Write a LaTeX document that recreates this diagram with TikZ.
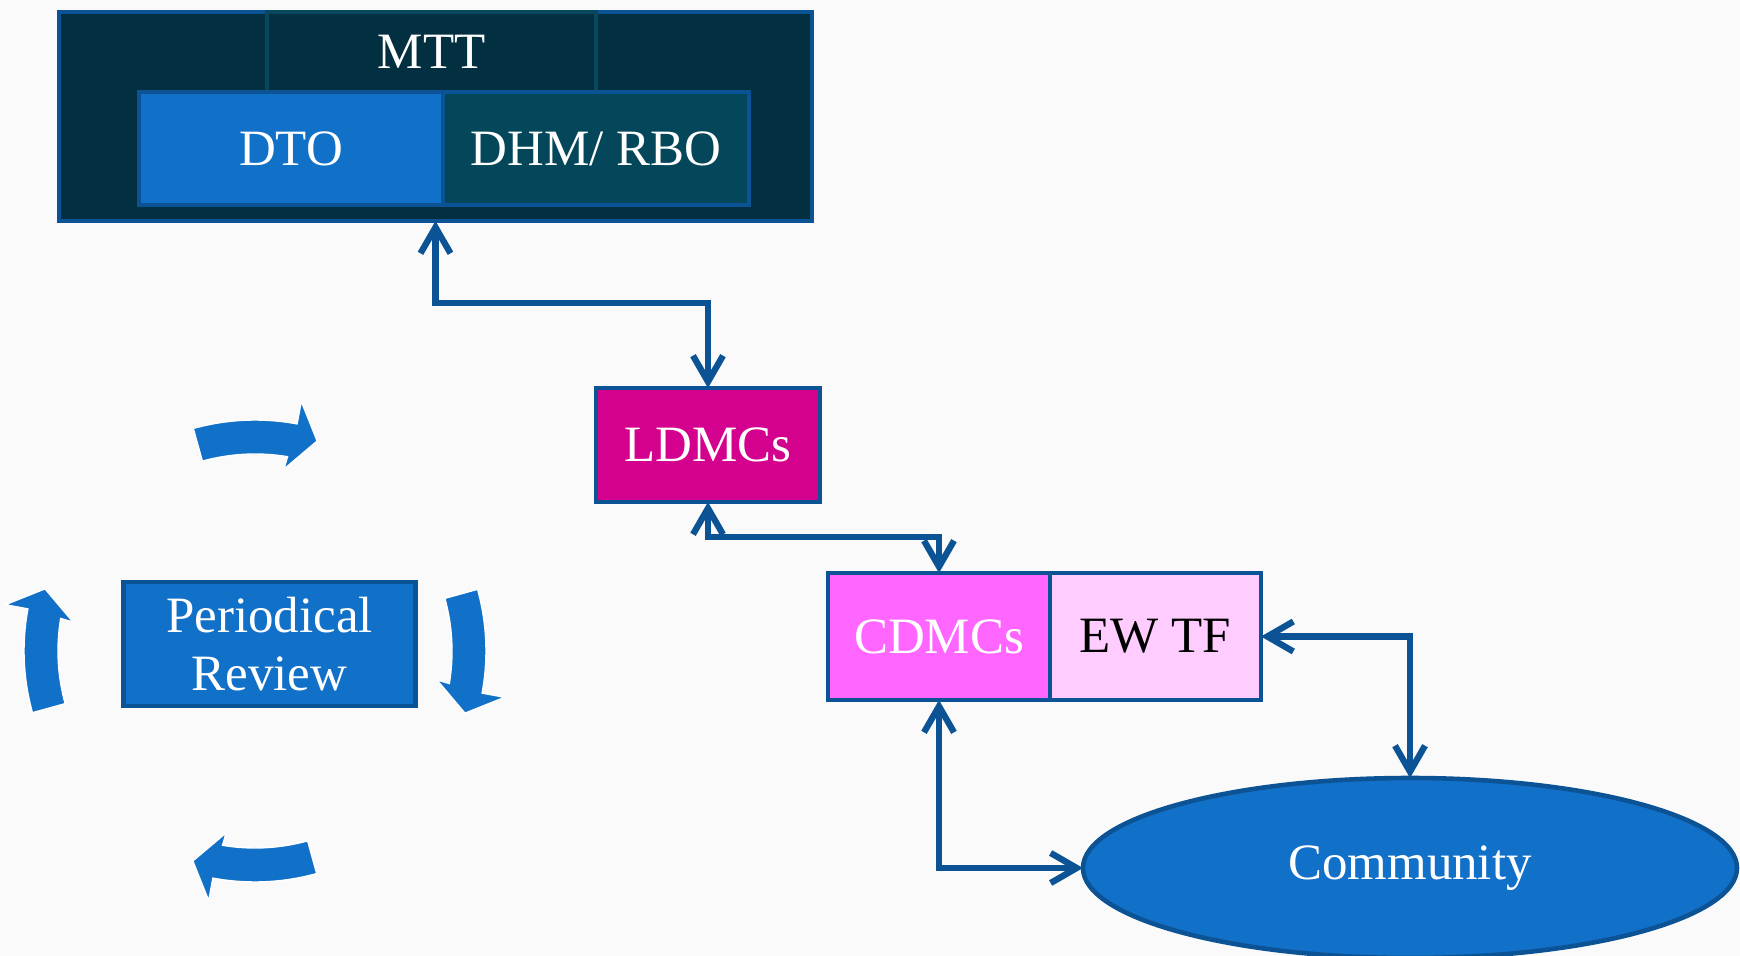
\documentclass[tikz,border=0pt]{standalone}
\usepackage{fontspec}
\setmainfont{Liberation Serif}
\usetikzlibrary{positioning,shapes.geometric,arrows.meta}
\definecolor{bgcolor}{RGB}{250, 250, 250}
\definecolor{lineblue}{RGB}{11, 83, 148}
\definecolor{mttdark}{RGB}{3, 48, 64}
\definecolor{tabteal}{RGB}{7, 72, 95}
\definecolor{dtoblue}{RGB}{17, 112, 200}
\definecolor{dhmteal}{RGB}{4, 70, 90}
\definecolor{ldmcmag}{RGB}{212, 0, 142}
\definecolor{cdmcpink}{RGB}{255, 102, 255}
\definecolor{ewtfpink}{RGB}{255, 204, 255}

\begin{document}
\begin{tikzpicture}[
    box/.style={draw=lineblue, line width=1.3pt, outer sep=0pt, text=white, inner sep=0pt, align=center, font=\fontsize{14.5}{16.5}\selectfont},
    link/.style={lineblue, line width=1.8pt, {Straight Barb[length=2.6mm,width=3mm]}-{Straight Barb[length=2.6mm,width=3mm]}},
    cyc/.style={fill=dtoblue, draw=white, line width=0.4pt}
]
    \useasboundingbox[fill=bgcolor] (0,0) rectangle (17.4,-9.56);

    \node[box, fill=mttdark, minimum width=7.53cm, minimum height=2.09cm] (mttbox) at (4.355,-1.165) {};
    \node[box, fill=mttdark, draw=tabteal, minimum width=3.29cm, minimum height=0.8cm] (mtt) at (4.315,-0.52) {MTT};
    \node[box, fill=dtoblue, minimum width=3.04cm, minimum height=1.13cm] (dto) at (2.91,-1.485) {DTO};
    \node[box, fill=dhmteal, minimum width=3.06cm, minimum height=1.13cm, right=0pt of dto] (dhm) {DHM/ RBO};

    \node[box, fill=ldmcmag, minimum width=2.24cm, minimum height=1.14cm] (ldmc) at (7.08,-4.45) {LDMCs};
    \node[box, fill=cdmcpink, minimum width=2.22cm, minimum height=1.27cm] (cdmc) at (9.39,-6.365) {CDMCs};
    \node[box, fill=ewtfpink, text=black, minimum width=2.11cm, minimum height=1.27cm, right=0pt of cdmc] (ewtf) {EW TF};
    \node[box, ellipse, fill=dtoblue, minimum width=6.54cm, minimum height=1.80cm] (comm) at (14.10,-8.68) {Community};

    \node[box, fill=dtoblue, minimum width=2.92cm, minimum height=1.24cm] (review) at (2.695,-6.44) {Periodical\\Review};

    \draw[link] (mttbox.south) -- ++(0,-0.82) -| (ldmc.north);
    \draw[link] (ldmc.south) -- ++(0,-0.35) -| (cdmc.north);
    \draw[link] (cdmc.south) |- (comm.west);
    \draw[link] (ewtf.east) -| (comm.north);

    % review cycle
    \begin{scope}[shift={(2.55,-6.51)}]
        \foreach \a in {90,0,-90,180}
            \filldraw[cyc] ({\a+15.5}:2.31) arc[start angle=\a+15.5, end angle=\a-10.5, radius=2.31]
                -- ({\a-10.5}:2.54) -- ({\a-16.5}:2.19) -- ({\a-9}:1.84) -- ({\a-9.5}:1.97)
                arc[start angle=\a-9.5, end angle=\a+15.5, radius=1.97] -- cycle;
    \end{scope}
\end{tikzpicture}
\end{document}
